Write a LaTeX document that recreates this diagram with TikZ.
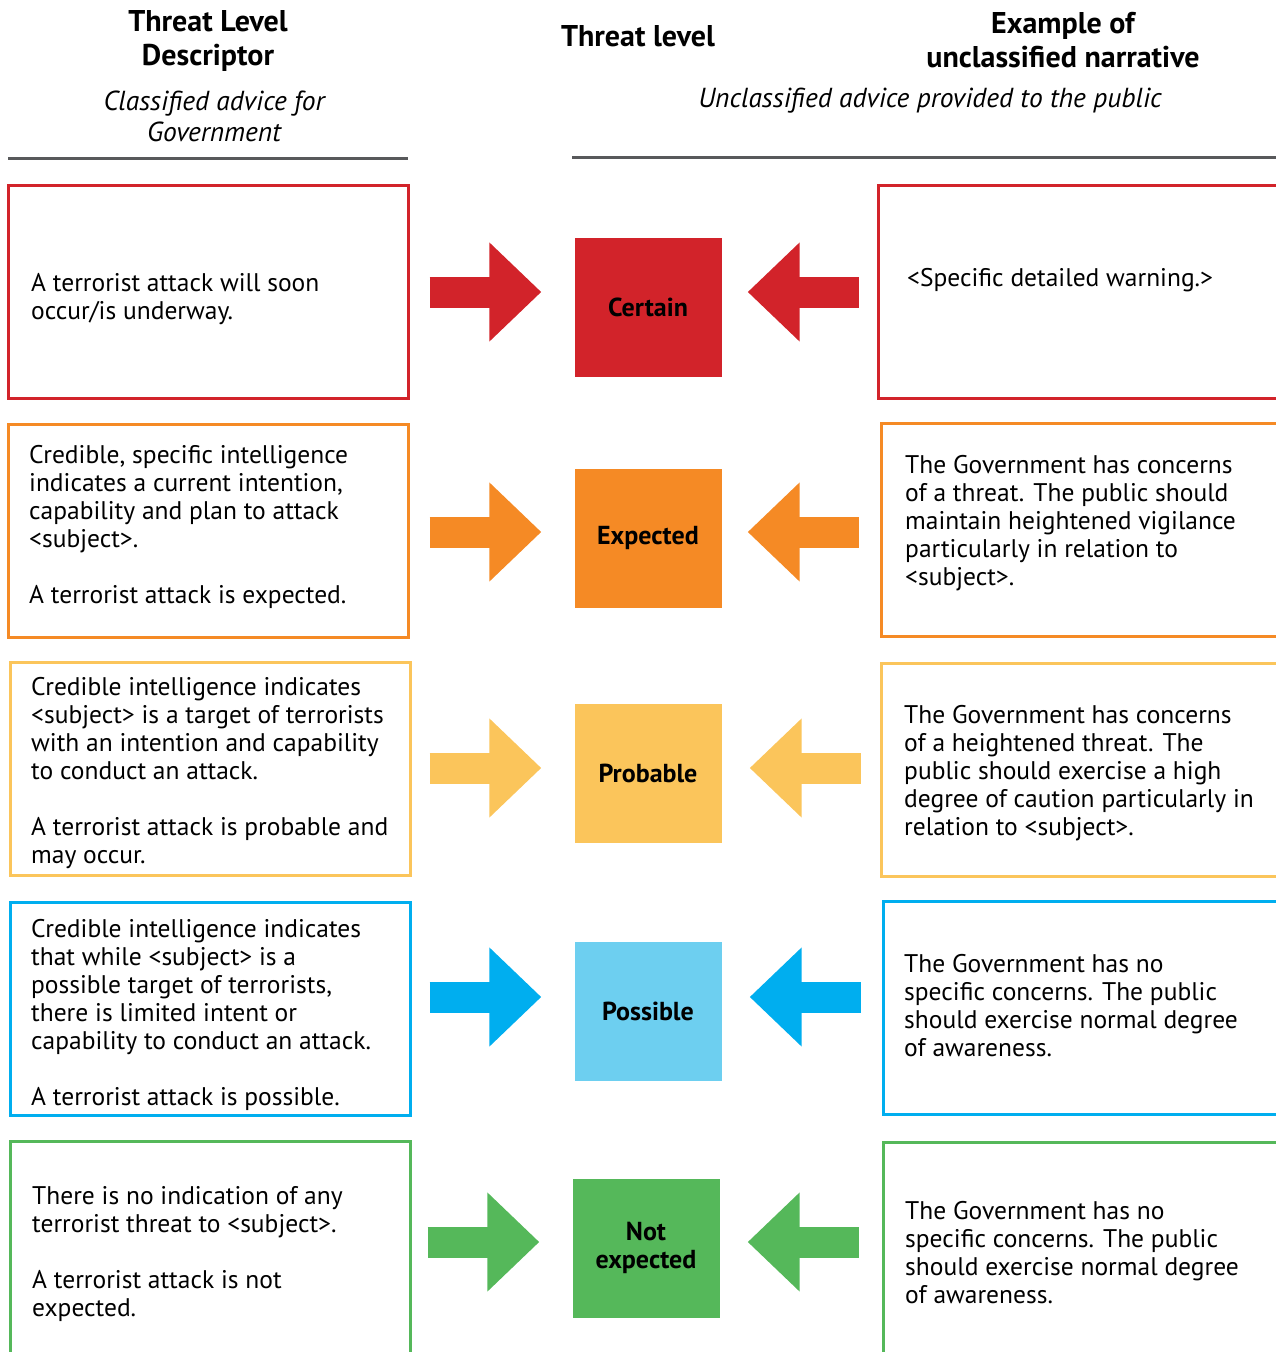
\documentclass[tikz,border=0pt]{standalone}
\usepackage{fontspec}
\setmainfont{PT Sans}
\usepackage{tikz}
\usepackage{xcolor}
\usetikzlibrary{arrows.meta}
\definecolor{lvl-red}{HTML}{D2232A}
\definecolor{lvl-orange}{HTML}{F58A25}
\definecolor{lvl-yellow}{HTML}{FBC55B}
\definecolor{lvl-blue}{HTML}{00AEEF}
\definecolor{lvl-lightblue}{HTML}{6DCFF0}
\definecolor{lvl-green}{HTML}{55B85A}
\definecolor{rule-grey}{HTML}{58595B}
\tikzset{
    desc-box/.style = {draw=#1, line width=3pt, rectangle, minimum width=400pt, minimum height=213pt, inner sep=0pt},
    desc-text/.style = {anchor=base west, align=left, inner sep=0pt, font=\fontsize{25.5}{28}\selectfont},
    level-square/.style = {fill=#1, rectangle, minimum width=147pt, minimum height=139pt, align=center, inner sep=0pt, font=\fontsize{26}{28}\selectfont\bfseries},
    level-arrow/.style = {draw=#1, line width=31pt, -{Triangle[length=52pt 0,width=96pt 0]}},
    head-title/.style = {align=center, font=\fontsize{30}{34}\selectfont\bfseries},
    head-sub/.style = {align=center, font=\fontsize{27.5}{31}\selectfont\itshape},
}
\begin{document}
\begin{tikzpicture}[x=1pt, y=-1pt]
\useasboundingbox (0,0) rectangle (1276,1352);
% column headings
\node[head-title] (t-desc) at (208,41) {Threat Level\\Descriptor};
\node[head-sub] (s-desc) at (214,116) {Classified advice for\\Government};
\node[head-title] (t-level) at (638,36) {Threat level};
\node[head-title] (t-narr) at (1063,40) {Example of\\unclassified narrative};
\node[head-sub] (s-narr) at (930,101) {Unclassified advice provided to the public};
\draw[rule-grey, line width=3pt] (8,158) -- (408,158);
\draw[rule-grey, line width=3pt] (572,157) -- (1276,157);

% certain (text nodes sit on the baseline of their last line)
\node[desc-box=lvl-red] (d-certain) at (208,292) {};
\node[desc-text] (d-certain-text) at (31,319) {A terrorist attack will soon\\occur/is underway.};
\node[level-square=lvl-red] (certain) at (648,307) {Certain};
\node[desc-box=lvl-red, minimum width=412pt] (n-certain) at (1084,292) {};
\node[desc-text] (n-certain-text) at (907,286) {<Specific detailed warning.>};
\draw[level-arrow=lvl-red, shorten <=20pt, shorten >=33pt] (d-certain.east |- 0,292) -- (certain.west |- 0,292);
\draw[level-arrow=lvl-red, shorten <=18pt, shorten >=26pt] (n-certain.west |- 0,292) -- (certain.east |- 0,292);

% expected
\node[desc-box=lvl-orange] (d-expected) at (208,531) {};
\node[desc-text] (d-expected-text) at (29,603) {Credible, specific intelligence\\indicates a current intention,\\capability and plan to attack\\<subject>.\\[28pt]A terrorist attack is expected.};
\node[level-square=lvl-orange] (expected) at (648,538) {Expected};
\node[desc-box=lvl-orange, minimum width=412pt] (n-expected) at (1087,530) {};
\node[desc-text] (n-expected-text) at (905,585) {The Government has concerns\\of a threat. The public should\\maintain heightened vigilance\\particularly in relation to\\<subject>.};
\draw[level-arrow=lvl-orange, shorten <=20pt, shorten >=33pt] (d-expected.east |- 0,532) -- (expected.west |- 0,532);
\draw[level-arrow=lvl-orange, shorten <=21pt, shorten >=26pt] (n-expected.west |- 0,532) -- (expected.east |- 0,532);

% probable
\node[desc-box=lvl-yellow] (d-probable) at (210,769) {};
\node[desc-text] (d-probable-text) at (31,863) {Credible intelligence indicates\\<subject> is a target of terrorists\\with an intention and capability\\to conduct an attack.\\[28pt]A terrorist attack is probable and\\may occur.};
\node[level-square=lvl-yellow] (probable) at (648,773) {Probable};
\node[desc-box=lvl-yellow, minimum width=412pt] (n-probable) at (1087,770) {};
\node[desc-text] (n-probable-text) at (904,835) {The Government has concerns\\of a heightened threat. The\\public should exercise a high\\degree of caution particularly in\\relation to <subject>.};
\draw[level-arrow=lvl-yellow, shorten <=18pt, shorten >=33pt] (d-probable.east |- 0,768) -- (probable.west |- 0,768);
\draw[level-arrow=lvl-yellow, shorten <=19pt, shorten >=28pt] (n-probable.west |- 0,768) -- (probable.east |- 0,768);

% possible
\node[desc-box=lvl-blue] (d-possible) at (210,1009) {};
\node[desc-text] (d-possible-text) at (31,1105) {Credible intelligence indicates\\that while <subject> is a\\possible target of terrorists,\\there is limited intent or\\capability to conduct an attack.\\[28pt]A terrorist attack is possible.};
\node[level-square=lvl-lightblue] (possible) at (648,1011) {Possible};
\node[desc-box=lvl-blue, minimum width=412pt] (n-possible) at (1089,1008) {};
\node[desc-text] (n-possible-text) at (904,1056) {The Government has no\\specific concerns. The public\\should exercise normal degree\\of awareness.};
\draw[level-arrow=lvl-blue, shorten <=18pt, shorten >=33pt] (d-possible.east |- 0,997) -- (possible.west |- 0,997);
\draw[level-arrow=lvl-blue, shorten <=21pt, shorten >=28pt] (n-possible.west |- 0,997) -- (possible.east |- 0,997);

% not expected
\node[desc-box=lvl-green, minimum height=226pt] (d-notexp) at (210,1254) {};
\node[desc-text] (d-notexp-text) at (32,1316) {There is no indication of any\\terrorist threat to <subject>.\\[28pt]A terrorist attack is not\\expected.};
\node[level-square=lvl-green] (notexp) at (646,1248) {Not\\expected};
\node[desc-box=lvl-green, minimum width=412pt, minimum height=226pt] (n-notexp) at (1089,1255) {};
\node[desc-text] (n-notexp-text) at (905,1303) {The Government has no\\specific concerns. The public\\should exercise normal degree\\of awareness.};
\draw[level-arrow=lvl-green, shorten <=16pt, shorten >=33pt] (d-notexp.east |- 0,1242) -- (notexp.west |- 0,1242);
\draw[level-arrow=lvl-green, shorten <=23pt, shorten >=28pt] (n-notexp.west |- 0,1242) -- (notexp.east |- 0,1242);
\end{tikzpicture}
\end{document}
